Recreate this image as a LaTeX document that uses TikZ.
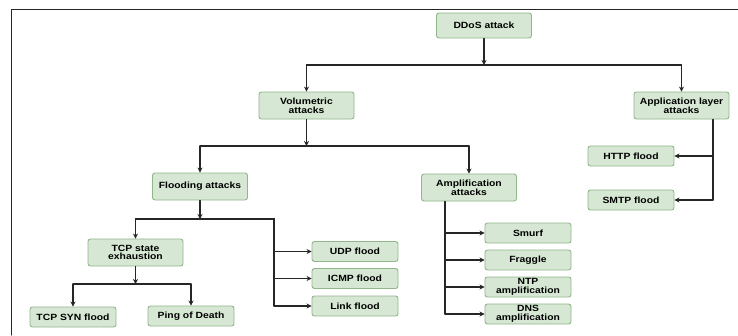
\documentclass[tikz,border=0pt]{standalone}
\usepackage{fontspec}
\newfontfamily\boxfont{Liberation Sans}[FakeStretch=1.15]
\usepackage{tikz}
\usetikzlibrary{arrows.meta}
\usepackage{xcolor}
\definecolor{boxfill}{RGB}{214,232,211}
\definecolor{boxline}{RGB}{145,182,138}
\definecolor{wire}{RGB}{38,38,38}

\begin{document}
\begin{tikzpicture}[x=1pt,y=-1pt,>={Stealth[length=5pt,width=5pt]},line cap=round,
  box/.style={draw=boxline,fill=boxfill,rounded corners=2.5pt,line width=0.9pt,align=center,
    inner sep=1pt,font=\boxfont\bfseries\fontsize{9}{8.6}\selectfont},
  bigbox/.style={box,minimum width=95pt,minimum height=27pt},
  smallbox/.style={box,minimum width=86pt,minimum height=20pt},
  wire/.style={draw=wire,line width=1.1pt}]
\useasboundingbox (0,0) rectangle (738,335);
\draw[wire,line width=1pt] (11,335) -- (11,9) -- (738,9);
% top levels
\node[bigbox,minimum height=25pt] (ddos) at (484,25.5) {DDoS attack};
\node[bigbox] (vol) at (306.5,105.5) {Volumetric\\attacks};
\node[bigbox] (app) at (681.5,105.5) {Application layer\\attacks};
\node[bigbox] (flood) at (200,186.5) {Flooding attacks};
\node[bigbox] (amp) at (469,187.5) {Amplification\\attacks};
\node[bigbox] (tcp) at (135.5,252.5) {TCP state\\exhaustion};
% leaves
\node[smallbox] (http) at (631,156) {HTTP flood};
\node[smallbox] (smtp) at (631,200) {SMTP flood};
\node[smallbox] (syn) at (73,317) {TCP SYN flood};
\node[smallbox] (ping) at (191,316) {Ping of Death};
\node[smallbox] (udp) at (355,251.5) {UDP flood};
\node[smallbox] (icmp) at (355,278.5) {ICMP flood};
\node[smallbox] (link) at (355,306) {Link flood};
\node[smallbox] (smurf) at (528,233) {Smurf};
\node[smallbox] (fraggle) at (528,260) {Fraggle};
\node[smallbox] (ntp) at (528,287) {NTP\\amplification};
\node[smallbox] (dns) at (528,314) {DNS\\amplification};
% junctions
\coordinate (j1) at (484,65);
\coordinate (j2) at (304,146);
\coordinate (j3) at (200,219);
\coordinate (j4) at (136,284);
\coordinate (fv) at (274,219);
\coordinate (mv) at (445,0);
\coordinate (av) at (713,0);
% DDoS
\draw[wire,->] (ddos) -- (ddos |- j1);
\draw[wire] (vol.north |- j1) -- (app.north |- j1);
\draw[wire,->] (vol.north |- j1) -- (vol);
\draw[wire,->] (app.north |- j1) -- (app);
% volumetric
\draw[wire,->] (vol) -- (vol |- j2);
\draw[wire] (flood.north |- j2) -- (amp.north |- j2);
\draw[wire,->] (flood.north |- j2) -- (flood);
\draw[wire,->] (amp.north |- j2) -- (amp);
% flooding
\draw[wire,->] (flood) -- (flood |- j3);
\draw[wire] (tcp.north |- j3) -- (fv) -- (link -| fv);
\draw[wire,->] (tcp.north |- j3) -- (tcp);
\foreach \n in {udp,icmp,link}
  \draw[wire,->] (\n -| fv) -- (\n.west);
% tcp state
\draw[wire,->] (tcp) -- (tcp |- j4);
\draw[wire] (syn.north |- j4) -- (ping.north |- j4);
\draw[wire,->] (syn.north |- j4) -- (syn);
\draw[wire,->] (ping.north |- j4) -- (ping);
% amplification
\draw[wire] (amp.south -| mv) -- (dns -| mv);
\foreach \n in {smurf,fraggle,ntp,dns}
  \draw[wire,->] (\n -| mv) -- (\n.west);
% application layer
\draw[wire] (app.south -| av) -- (smtp -| av);
\foreach \n in {http,smtp}
  \draw[wire,->] (\n -| av) -- (\n.east);
\end{tikzpicture}
\end{document}
